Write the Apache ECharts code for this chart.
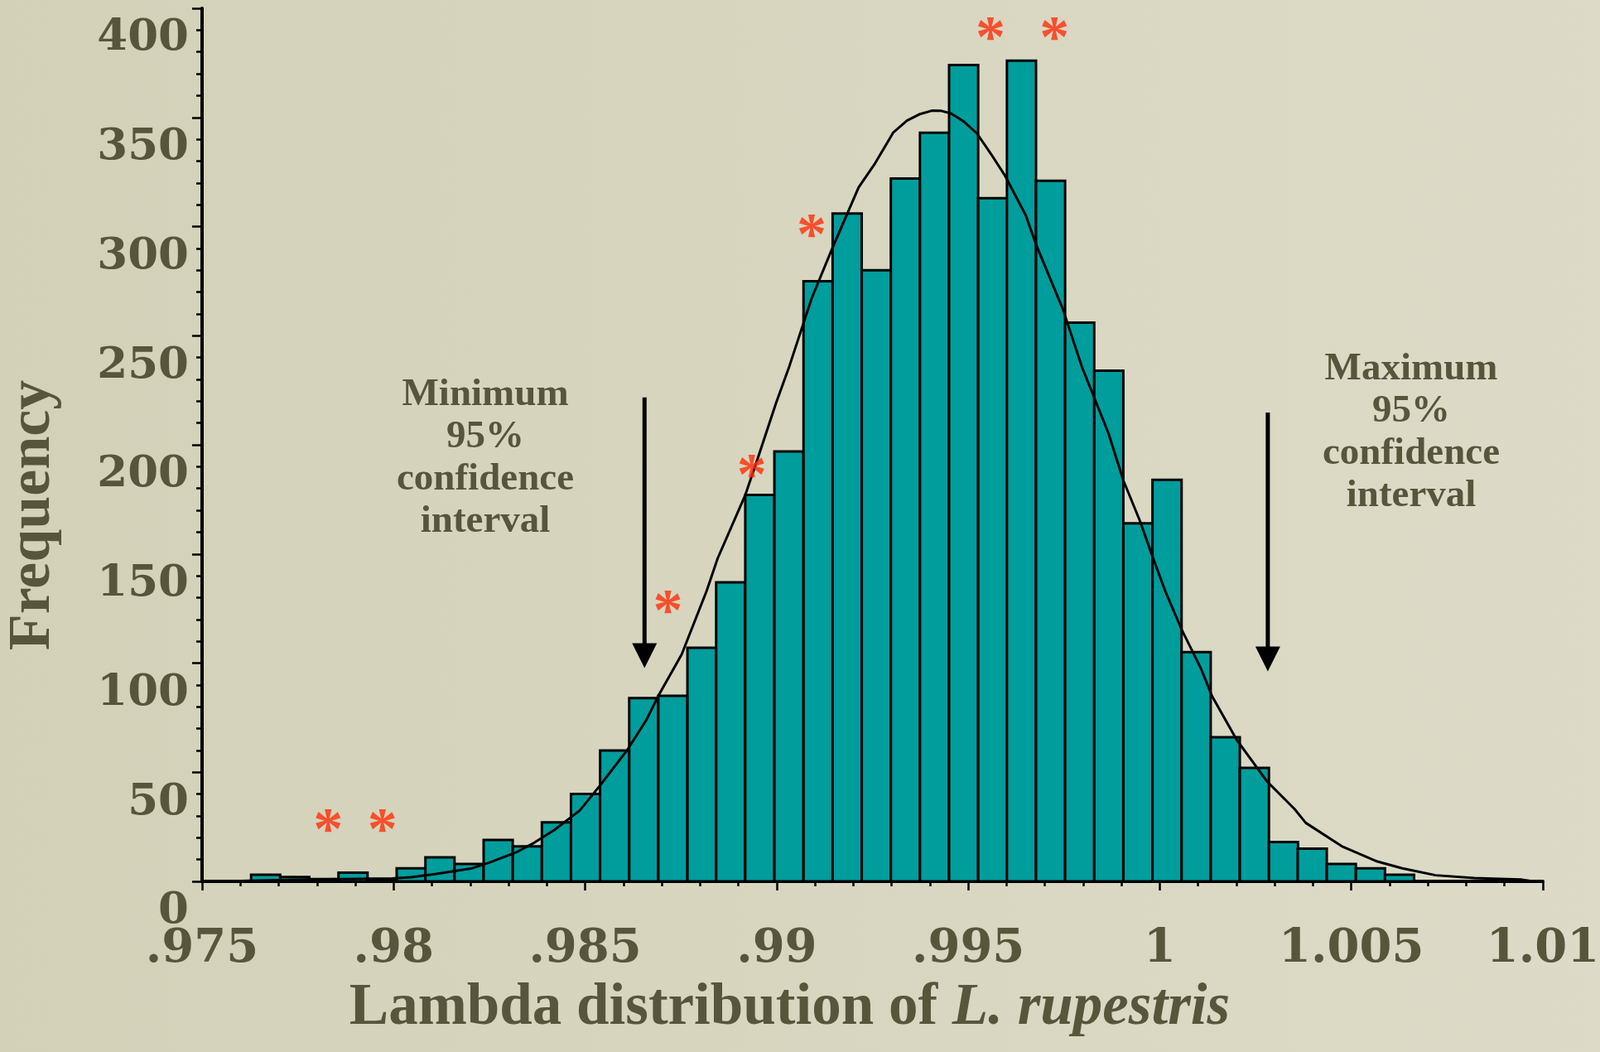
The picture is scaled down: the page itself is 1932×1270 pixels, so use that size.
<!DOCTYPE html>
<html>
<head>
<meta charset="utf-8">
<title>Lambda distribution of L. rupestris</title>
<script src="https://cdn.jsdelivr.net/npm/echarts@6/dist/echarts.min.js"></script>
<style>
html, body { margin: 0; padding: 0; }
#chart { width: 1932px; height: 1270px; }
</style>
</head>
<body>
<div id="chart"></div>
<script>
// histogram: left edge of each bin and its count
var binWidth = 0.000759;
var binLeft = [0.97628, 0.97704, 0.97780, 0.97856, 0.97932, 0.98008, 0.98083, 0.98159, 0.98235, 0.98311,
	0.98387, 0.98463, 0.98539, 0.98615, 0.98691, 0.98767, 0.98842, 0.98918, 0.98994, 0.99070,
	0.99146, 0.99222, 0.99298, 0.99374, 0.99450, 0.99526, 0.99601, 0.99677, 0.99753, 0.99829,
	0.99905, 0.99981, 1.00057, 1.00133, 1.00209, 1.00285, 1.00360, 1.00436, 1.00512, 1.00588];
var counts = [3, 2, 1, 4, 1, 6, 11, 8, 19, 16,
	27, 40, 60, 84, 85, 107, 137, 177, 197, 275,
	306, 280, 322, 343, 374, 313, 376, 321, 256, 234,
	164, 184, 105, 66, 52, 18, 15, 8, 6, 3];

// fitted curve
var curveX = [0.97550, 0.97776, 0.97996, 0.98046, 0.98111, 0.98205, 0.98248, 0.98320, 0.98363, 0.98421,
	0.98486, 0.98536, 0.98608, 0.98659, 0.98691, 0.98752, 0.98817, 0.98846, 0.98918, 0.98951,
	0.98998, 0.99033, 0.99091, 0.99145, 0.99214, 0.99257, 0.99304, 0.99340, 0.99372, 0.99405,
	0.99430, 0.99455, 0.99487, 0.99523, 0.99560, 0.99595, 0.99650, 0.99678, 0.99747, 0.99797,
	0.99866, 0.99905, 0.99949, 0.99977, 1.00014, 1.00057, 1.00107, 1.00136, 1.00201, 1.00280,
	1.00352, 1.00381, 1.00475, 1.00568, 1.00633, 1.00720, 1.00821, 1.00942, 1.00974];
var curveY = [0, 0.9, 1.3, 1.9, 3.4, 6, 8.5, 13.3, 17.3, 23.7,
	32.5, 43.3, 59.7, 73.7, 85, 104, 133, 148, 177, 194,
	219, 236, 267, 290, 318, 329, 343, 348.5, 351.4, 353.1,
	353, 351.8, 348.3, 342.6, 333.1, 323.6, 305.2, 291.3, 262.2, 235.6,
	205.3, 183.7, 164.8, 150.8, 133.1, 115.4, 97.7, 85, 64.8, 45.8,
	33.1, 26.8, 16.1, 9.1, 6, 2.8, 1.5, 0.9, 0];

// red asterisks
var starX = [0.97829, 0.97971, 0.98716, 0.98935, 0.99091, 0.99558, 0.99725];
var starY = [28.9, 28.9, 129.3, 191.6, 301.4, 391.9, 391.9];

// 95% confidence interval arrows
var arrowX = [0.98655, 1.00282];
var arrowTop = [221.7, 214.8];
var arrowTip = [97.7, 96.2];

var xMin = 0.975, xMax = 1.01, xStep = 0.005;
var yMin = 0, yMax = 400, yStep = 50;

var ink = '#57553c';

var barData = [];
for (var i = 0; i < counts.length; i++) {
	barData.push([binLeft[i], binLeft[i] + binWidth, counts[i]]);
}
var curveData = [];
for (var i = 0; i < curveX.length; i++) {
	curveData.push([curveX[i], curveY[i]]);
}
var starData = [];
for (var i = 0; i < starX.length; i++) {
	starData.push([starX[i], starY[i]]);
}
var arrowData = [];
for (var i = 0; i < arrowX.length; i++) {
	arrowData.push([arrowX[i], arrowTop[i], arrowTip[i]]);
}

function renderBar(params, api) {
	var p0 = api.coord([api.value(0), 0]);
	var p1 = api.coord([api.value(1), api.value(2)]);
	return {
		type : 'rect',
		shape : { x : p0[0], y : p1[1], width : p1[0] - p0[0], height : p0[1] - p1[1] },
		style : { fill : '#009d9d', stroke : '#000', lineWidth : 3 }
	};
}

function renderArrow(params, api) {
	var top = api.coord([api.value(0), api.value(1)]);
	var tip = api.coord([api.value(0), api.value(2)]);
	var head = 30, half = 15;
	return {
		type : 'group',
		children : [ {
			type : 'line',
			shape : { x1 : top[0], y1 : top[1], x2 : tip[0], y2 : tip[1] - head + 2 },
			style : { stroke : '#000', lineWidth : 5 }
		}, {
			type : 'polygon',
			shape : { points : [ [ tip[0] - half, tip[1] - head ], [ tip[0] + half, tip[1] - head ], [ tip[0], tip[1] ] ] },
			style : { fill : '#000' }
		} ]
	};
}

function fmtX(v) {
	var s = String(+v.toFixed(3));
	return s.replace(/^0\./, '.');
}

var axisLine = { color : '#000', width : 4 };
var tickLine = { color : '#000', width : 2.5 };

var chart = echarts.init(document.getElementById('chart'));
var option = {
	backgroundColor : {
		type : 'linear', x : 0, y : 0, x2 : 1, y2 : 0,
		colorStops : [ { offset : 0, color : '#d3d1b8' }, { offset : 1, color : '#dddbc7' } ]
	},
	animation : false,
	grid : {
		left : 244, right : 69, top : 10, bottom : 206,
		containLabel : false,
		outerBoundsMode : 'none'
	},
	xAxis : {
		type : 'value',
		min : xMin, max : xMax, interval : xStep,
		axisLine : { onZero : false, lineStyle : axisLine },
		axisTick : { show : true, length : 11, lineStyle : tickLine },
		minorTick : { show : true, splitNumber : 5, length : 6, lineStyle : tickLine },
		splitLine : { show : false },
		axisLabel : {
			formatter : fmtX, margin : 54,
			color : ink, fontFamily : 'DejaVu Serif', fontWeight : 'bold', fontSize : 56
		},
		name : '{a|Lambda distribution of }{b|L. rupestris}',
		nameLocation : 'middle',
		nameGap : 118,
		nameMoveOverlap : false,
		nameTextStyle : {
			padding : [ 0, 200, 0, 0 ],
			rich : {
				a : { fontFamily : 'Liberation Serif', fontWeight : 'bold', fontSize : 71, color : ink },
				b : { fontFamily : 'Liberation Serif', fontWeight : 'bold', fontStyle : 'italic', fontSize : 71, color : ink }
			}
		}
	},
	yAxis : {
		type : 'value',
		min : yMin, max : yMax, interval : yStep,
		axisLine : { show : true, lineStyle : axisLine },
		axisTick : { show : true, length : 12, lineStyle : tickLine },
		minorTick : { show : true, splitNumber : 5, length : 7, lineStyle : tickLine },
		splitLine : { show : false },
		axisLabel : {
			margin : 16, verticalAlign : 'top', padding : [ 10, 0, 0, 0 ],
			color : ink, fontFamily : 'DejaVu Serif', fontWeight : 'bold', fontSize : 53
		},
		name : 'Frequency',
		nameLocation : 'middle',
		nameRotate : 90,
		nameGap : 168,
		nameMoveOverlap : false,
		nameTextStyle : {
			padding : [ 0, 170, 0, 0 ],
			fontFamily : 'Liberation Serif', fontWeight : 'bold', fontSize : 72, color : ink
		}
	},
	series : [ {
		type : 'custom',
		renderItem : renderBar,
		encode : { x : [ 0, 1 ], y : 2 },
		data : barData,
		z : 2
	}, {
		type : 'line',
		data : curveData,
		showSymbol : false,
		smooth : false,
		lineStyle : { color : '#000', width : 3 },
		z : 3
	}, {
		type : 'custom',
		renderItem : renderArrow,
		encode : { x : 0, y : [ 1, 2 ] },
		data : arrowData,
		z : 4
	}, {
		type : 'scatter',
		data : starData,
		symbolSize : 0,
		label : {
			show : true, position : 'inside', formatter : '*', offset : [ 0, 18 ],
			fontFamily : 'Liberation Serif', fontWeight : 'bold', fontSize : 72, color : '#ff2d0a'
		},
		z : 5
	} ],
	graphic : [ {
		type : 'text', x : 586, y : 553,
		style : {
			text : 'Minimum\n95%\nconfidence\ninterval',
			fontFamily : 'Liberation Serif', fontWeight : 'bold', fontSize : 47,
			lineHeight : 51, fill : ink, align : 'center', verticalAlign : 'middle'
		}
	}, {
		type : 'text', x : 1704, y : 522,
		style : {
			text : 'Maximum\n95%\nconfidence\ninterval',
			fontFamily : 'Liberation Serif', fontWeight : 'bold', fontSize : 47,
			lineHeight : 51, fill : ink, align : 'center', verticalAlign : 'middle'
		}
	} ]
};
chart.setOption(option);
</script>
</body>
</html>
